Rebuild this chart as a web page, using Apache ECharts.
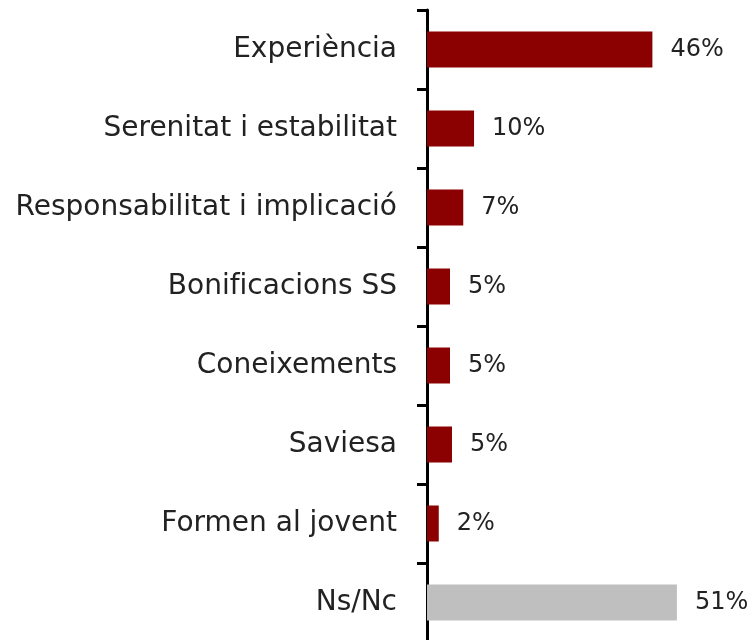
<!DOCTYPE html>
<html lang="ca">
	<head>
		<meta charset="UTF-8" />
		<title>Chart</title>
		<style>
			body {
				margin: 0;
				padding: 0;
				background: #fff;
			}
			.chart {
				width: 750px;
				height: 640px;
			}
		</style>
	</head>
	<body>
		<div class="chart"></div>
		<script src="https://cdn.jsdelivr.net/npm/echarts@6/dist/echarts.min.js"></script>
		<script>
			// categories, top to bottom
			const categories = [
				'Experiència',
				'Serenitat i estabilitat',
				'Responsabilitat i implicació',
				'Bonificacions SS',
				'Coneixements',
				'Saviesa',
				'Formen al jovent',
				'Ns/Nc'
			];
			// percentages
			const values = [46, 9.6, 7.4, 4.7, 4.7, 5.1, 2.4, 51];
			const colors = ['#8B0000', '#8B0000', '#8B0000', '#8B0000', '#8B0000', '#8B0000', '#8B0000', '#BFBFBF'];

			const fontFamily = 'DejaVu Sans';
			const instance = echarts.init(document.querySelector('.chart'));
			const option = {
				animation: false,
				grid: {
					left: 427,
					top: 10,
					width: 294,
					height: 632,
					outerBoundsMode: 'none'
				},
				xAxis: {
					type: 'value',
					min: 0,
					max: 60,
					show: false
				},
				yAxis: {
					type: 'category',
					inverse: true,
					data: categories,
					axisLine: { show: true, lineStyle: { color: '#000', width: 3 } },
					axisTick: { show: true, length: 10, lineStyle: { color: '#000', width: 3 } },
					axisLabel: {
						margin: 30,
						color: '#222',
						fontSize: 28,
						fontFamily: fontFamily
					}
				},
				series: [
					{
						type: 'bar',
						barWidth: 36,
						data: values.map((v, i) => ({ value: v, itemStyle: { color: colors[i] } })),
						label: {
							show: true,
							position: 'right',
							distance: 18,
							color: '#222',
							fontSize: 24,
							fontFamily: fontFamily,
							formatter: p => Math.round(p.value) + '%'
						}
					}
				]
			};
			instance.setOption(option);
		</script>
	</body>
</html>
